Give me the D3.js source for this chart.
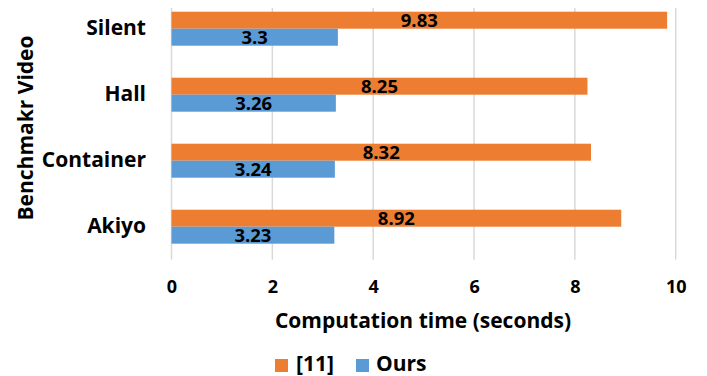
<!DOCTYPE html>
<html>
<head>
<meta charset="utf-8">
<script src="https://cdn.jsdelivr.net/npm/d3@7"></script>
<style>
  html, body { margin: 0; padding: 0; background: #fff; }
  svg { display: block; font-family: "Open Sans", "Noto Sans", sans-serif; font-weight: bold; }
</style>
</head>
<body>
<svg id="chart" width="707" height="376"></svg>
<script>
// Benchmark videos, top to bottom
const categories = ["Silent", "Hall", "Container", "Akiyo"];
// Series names and values (seconds)
const seriesNames = ["[11]", "Ours"];
const refValues = [9.83, 8.25, 8.32, 8.92];
const oursValues = [3.3, 3.26, 3.24, 3.23];
const xTicks = [0, 2, 4, 6, 8, 10];
const colors = { "[11]": "#ED7D31", "Ours": "#5B9BD5" };
const FONT = "'Open Sans', 'Noto Sans', sans-serif";

const rows = categories.map((c, i) => ({
  name: c,
  values: [
    { series: seriesNames[0], value: refValues[i] },
    { series: seriesNames[1], value: oursValues[i] }
  ]
}));

const svg = d3.select("#chart");

const plotLeft = 171.5, plotRight = 675.7;
const gridTop = 8, gridBottom = 259.7;

const x = d3.scaleLinear().domain([0, 10]).range([plotLeft, plotRight]);
const y = d3.scaleBand()
  .domain(categories)
  .range([gridBottom - 4 * 66, gridBottom])
  .paddingInner(0.485)
  .paddingOuter(0.2425);
const ySub = d3.scaleBand().domain(seriesNames).range([0, y.bandwidth()]);

// vertical gridlines
svg.append("g")
  .selectAll("line")
  .data(xTicks)
  .join("line")
  .attr("x1", d => x(d)).attr("x2", d => x(d))
  .attr("y1", gridTop).attr("y2", gridBottom)
  .attr("stroke", "#d9d9d9")
  .attr("stroke-width", 1.5);

// x axis tick labels
const xAxis = d3.axisBottom(x).tickValues(xTicks).tickSize(0).tickPadding(0).tickFormat(d3.format("d"));
const gx = svg.append("g").attr("transform", `translate(0,${gridBottom})`).call(xAxis);
gx.select(".domain").remove();
gx.selectAll("text")
  .attr("dy", null)
  .attr("y", 33.5)
  .attr("font-size", 18)
  .attr("font-weight", "bold")
  .attr("font-family", FONT)
  .attr("fill", "#000");

// y axis category labels
const yAxis = d3.axisLeft(y).tickSize(0).tickPadding(0);
const gy = svg.append("g").attr("transform", `translate(146,0)`).call(yAxis);
gy.select(".domain").remove();
gy.selectAll("text")
  .attr("font-size", 21)
  .attr("font-weight", "bold")
  .attr("font-family", FONT)
  .attr("fill", "#000");

// bars
const groups = svg.append("g")
  .selectAll("g")
  .data(rows)
  .join("g")
  .attr("transform", d => `translate(0,${y(d.name)})`);

groups.selectAll("rect")
  .data(d => d.values)
  .join("rect")
  .attr("x", x(0))
  .attr("y", d => ySub(d.series))
  .attr("width", d => x(d.value) - x(0))
  .attr("height", ySub.bandwidth())
  .attr("fill", d => colors[d.series]);

groups.selectAll("text")
  .data(d => d.values)
  .join("text")
  .attr("x", d => (x(0) + x(d.value)) / 2)
  .attr("y", d => ySub(d.series) + ySub.bandwidth() / 2)
  .attr("dy", "0.36em")
  .attr("text-anchor", "middle")
  .attr("font-size", 18.5)
  .attr("fill", "#000")
  .text(d => d.value);

// axis titles
svg.append("text")
  .attr("x", 423)
  .attr("y", 328)
  .attr("text-anchor", "middle")
  .attr("font-size", 21)
  .attr("fill", "#000")
  .text("Computation time (seconds)");

svg.append("text")
  .attr("transform", "translate(33,128) rotate(-90)")
  .attr("text-anchor", "middle")
  .attr("font-size", 21)
  .attr("fill", "#000")
  .text("Benchmakr Video");

// legend
const legendItems = [
  { name: seriesNames[0], sx: 275, tx: 296 },
  { name: seriesNames[1], sx: 356, tx: 376 }
];
const legend = svg.append("g");
legend.selectAll("rect")
  .data(legendItems)
  .join("rect")
  .attr("x", d => d.sx).attr("y", 359)
  .attr("width", 13).attr("height", 13)
  .attr("fill", d => colors[d.name]);
legend.selectAll("text")
  .data(legendItems)
  .join("text")
  .attr("x", d => d.tx).attr("y", 371)
  .attr("font-size", 21)
  .attr("fill", "#000")
  .text(d => d.name);
</script>
</body>
</html>
